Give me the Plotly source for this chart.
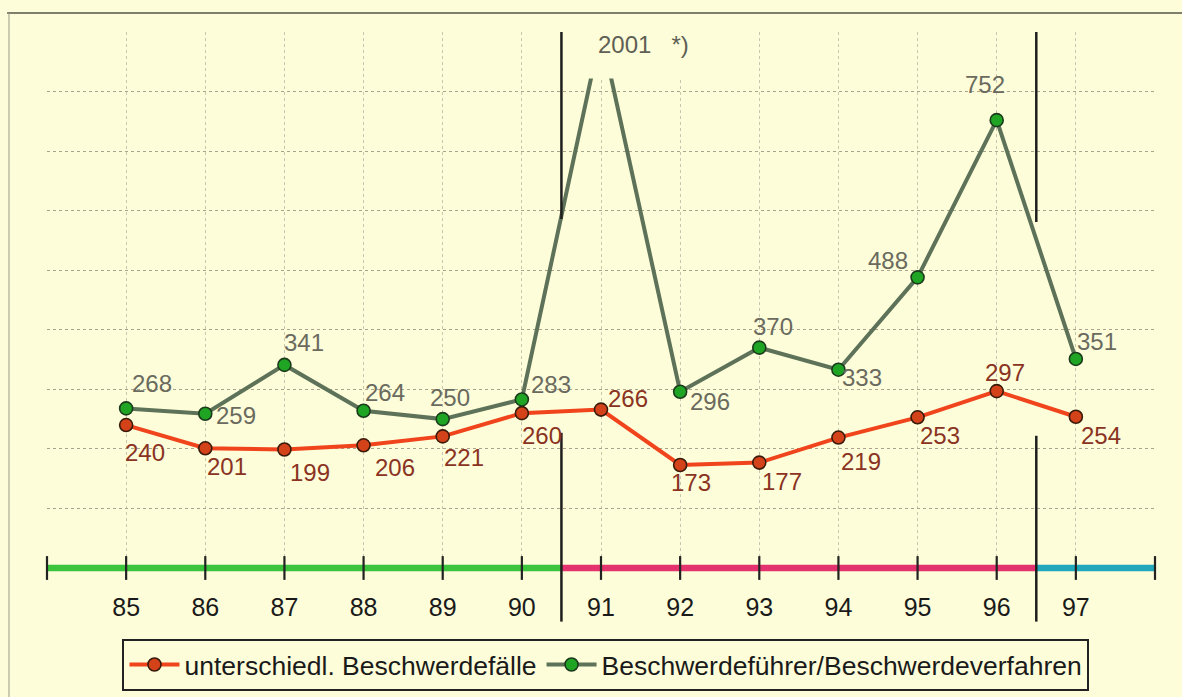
import plotly.graph_objects as go

# ---- data ----
years = [85, 86, 87, 88, 89, 90, 91, 92, 93, 94, 95, 96, 97]
tick_labels = ["85", "86", "87", "88", "89", "90", "91", "92", "93", "94", "95", "96", "97"]
faelle = [240, 201, 199, 206, 221, 260, 266, 173, 177, 219, 253, 297, 254]
verfahren = [268, 259, 341, 264, 250, 283, 2001, 296, 370, 333, 488, 752, 351]
name_faelle = "unterschiedl. Beschwerdefälle"
name_verfahren = "Beschwerdeführer/Beschwerdeverfahren"

# label offsets (pixels) - style only
off_faelle = [(19, -27), (22, -18), (26, -23), (31, -22), (21, -21), (20, -22), (27, 11),
              (11, -18), (23, -19), (23, -24), (22, -18), (8, 19), (25, -19)]
off_verfahren = [(26, 25), (31, -2), (20, 22), (21, 18), (7, 22), (29, 15), None,
                 (30, -10), (14, 21), (24, -8), (-30, 17), (-12, 36), (21, 17)]

BG = "#fdfdd9"
FONT = "Liberation Sans, Arial, sans-serif"
X_MIN, X_MAX = 84, 98
Y_MAX = 900

# values beyond the axis maximum are drawn at the top of the chart (as in the original)
verfahren_plot = [min(v, Y_MAX) for v in verfahren]

fig = go.Figure()

fig.add_trace(go.Scatter(
    x=years, y=faelle, name=name_faelle, mode="lines+markers",
    line=dict(color="#f0441c", width=4),
    marker=dict(size=13, color="#d4421a", line=dict(color="#3a1a0a", width=1.6)),
))
fig.add_trace(go.Scatter(
    x=years, y=verfahren_plot, name=name_verfahren, mode="lines+markers",
    line=dict(color="#5d7258", width=4),
    marker=dict(size=13, color="#1fa424", line=dict(color="#1c3a1c", width=1.6)),
    customdata=verfahren, hovertemplate="%{x}: %{customdata}<extra></extra>",
))

# axis ticks that cross the coloured axis bar
tick_pos = list(range(X_MIN, X_MAX + 1))
fig.add_trace(go.Scatter(
    x=tick_pos, y=[0] * len(tick_pos), mode="markers", showlegend=False,
    hoverinfo="skip", cliponaxis=False,
    marker=dict(symbol="line-ns", size=17, line=dict(color="#222", width=2.2)),
))

annotations = []
for x, v, off in zip(years, faelle, off_faelle):
    annotations.append(dict(x=x, y=v, text=str(v), showarrow=False,
                            xshift=off[0], yshift=off[1],
                            font=dict(size=24, color="#8a3322", family=FONT)))
for x, v, off in zip(years, verfahren, off_verfahren):
    if off is None:
        continue
    annotations.append(dict(x=x, y=v, text=str(v), showarrow=False,
                            xshift=off[0], yshift=off[1],
                            font=dict(size=24, color="#6a6a5e", family=FONT)))
# clipped peak value label
peak_i = verfahren.index(max(verfahren))
annotations.append(dict(x=years[peak_i], y=Y_MAX, text=f"{verfahren[peak_i]}\u00a0\u00a0\u00a0*)",
                        showarrow=False, xshift=42, yshift=-12,
                        font=dict(size=24, color="#5f5f55", family=FONT)))

shapes = []
# mask hiding the clipped peak at the top of the plot
shapes.append(dict(type="rect", xref="x", yref="y", x0=90.77, x1=92.31, y0=822, y1=Y_MAX + 50,
                   fillcolor=BG, line=dict(width=0), layer="above"))
# coloured axis segments
for x0, x1, col in [(84, 90.5, "#3cc43c"), (90.5, 96.5, "#e3326e"), (96.5, 98, "#22a8bc")]:
    shapes.append(dict(type="line", xref="x", yref="paper", x0=x0, x1=x1, y0=0, y1=0,
                       line=dict(color=col, width=6.5), layer="below"))
# period separators
for xs, top_end, bot_start in [(90.5, 586, 227), (96.5, 581, 222)]:
    shapes.append(dict(type="line", xref="x", yref="y", x0=xs, x1=xs, y0=Y_MAX, y1=top_end,
                       line=dict(color="#1e1e1e", width=2.5), layer="above"))
    shapes.append(dict(type="line", xref="x", yref="paper", x0=xs, x1=xs,
                       y0=bot_start / Y_MAX, y1=-0.1,
                       line=dict(color="#1e1e1e", width=2.5), layer="above"))
# outer frame
shapes.append(dict(type="line", xref="paper", yref="paper", x0=-0.036, x1=1.03, y0=1.0354, y1=1.0354,
                   line=dict(color="#555548", width=1.6)))
shapes.append(dict(type="line", xref="paper", yref="paper", x0=-0.0343, x1=-0.0343, y0=1.0354, y1=-0.26,
                   line=dict(color="#9a9a88", width=1)))

fig.update_layout(
    width=1182, height=697,
    margin=dict(l=47, r=27, t=32, b=129, autoexpand=False),
    paper_bgcolor=BG, plot_bgcolor=BG,
    font=dict(family=FONT, color="#1a1a1a"),
    showlegend=True,
    legend=dict(orientation="h", x=0.5045, xanchor="center", y=-0.132, yanchor="top",
                bgcolor=BG, bordercolor="#222", borderwidth=2, itemwidth=50,
                font=dict(size=26.5, color="#1a1a1a", family=FONT)),
    annotations=annotations,
    shapes=shapes,
)
fig.update_xaxes(range=[X_MIN, X_MAX], tickvals=years, ticktext=tick_labels,
                 ticks="", tickfont=dict(size=25, color="#1a1a1a"), ticklabelstandoff=22,
                 showgrid=False, zeroline=False, showline=False, automargin=False)
# vertical dotted grid via minor ticks
fig.update_xaxes(minor=dict(tickvals=tick_pos, showgrid=True, gridcolor="#c9c6b0",
                            griddash="dot", gridwidth=1))
fig.update_yaxes(range=[0, Y_MAX], dtick=100, showticklabels=False, ticks="",
                 showgrid=True, gridcolor="#aaa48e", griddash="dot", gridwidth=1,
                 zeroline=False, showline=False, automargin=False)

fig.write_html("out.html")
